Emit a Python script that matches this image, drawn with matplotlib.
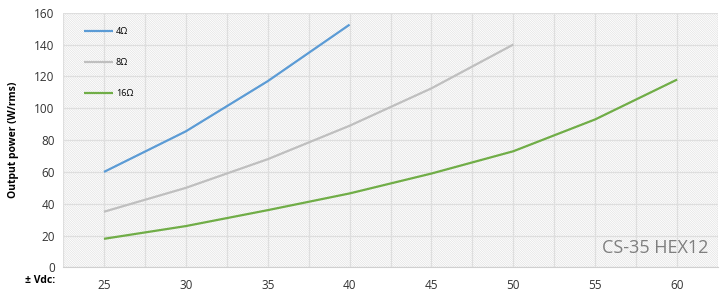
import matplotlib
matplotlib.use("Agg")
import matplotlib.pyplot as plt
from matplotlib.patches import Rectangle
from matplotlib.ticker import MultipleLocator

plt.rcParams['font.family'] = ['Open Sans', 'DejaVu Sans']
plt.rcParams['hatch.linewidth'] = 0.4
plt.rcParams['hatch.color'] = '#dcdcdc'

volts_4 = [25, 30, 35, 40]
power_4 = [60, 85.5, 117, 152.5]
volts_8 = [25, 30, 35, 40, 45, 50]
power_8 = [35, 50, 68, 89, 112.5, 140]
volts_16 = [25, 30, 35, 40, 45, 50, 55, 60]
power_16 = [18, 26, 36, 46.5, 59, 73, 93, 118]
labels = ['4Ω', '8Ω', '16Ω']
colors = ['#5B9BD5', '#BFBFBF', '#70AD47']
x_ticks = [25, 30, 35, 40, 45, 50, 55, 60]
y_ticks = [0, 20, 40, 60, 80, 100, 120, 140, 160]

fig = plt.figure(figsize=(7.22, 2.91), dpi=100)
ax = fig.add_axes([0.0873, 0.0808, 0.9072, 0.8756])

bg = Rectangle((0, 0), 1, 1, transform=ax.transAxes, facecolor='white',
               edgecolor='#dcdcdc', hatch='\\' * 15, linewidth=0, zorder=0)
ax.add_patch(bg)

for xs, ys, lab, c in zip([volts_4, volts_8, volts_16], [power_4, power_8, power_16], labels, colors):
    ax.plot(xs, ys, color=c, lw=1.6, label=lab, zorder=3, solid_capstyle='butt')

ax.set_xlim(22.5, 62.5)
ax.set_ylim(0, 160)
ax.set_xticks(x_ticks)
ax.set_yticks(y_ticks)
ax.xaxis.set_minor_locator(MultipleLocator(2.5))
ax.grid(True, which='both', axis='x', color='#dedede', lw=0.9, zorder=1)
ax.grid(True, which='major', axis='y', color='#dedede', lw=0.9, zorder=1)
ax.set_axisbelow(False)
for s in ax.spines.values():
    s.set_visible(False)
ax.spines['bottom'].set_visible(True)
ax.spines['bottom'].set_color('#d0d0d0')
ax.tick_params(axis='both', which='both', length=0, labelsize=8.5, colors='#333333')
ax.tick_params(axis='x', pad=8)
ax.tick_params(axis='y', pad=6)

ax.set_ylabel('Output power (W/rms)', fontsize=7.5, fontweight='bold', labelpad=11)
fig.text(0.055, 0.035, '± Vdc:', fontsize=7.5, fontweight='bold', ha='center', va='center')

ax.text(0.985, 0.04, 'CS-35 HEX12', transform=ax.transAxes, ha='right', va='bottom',
        fontsize=13, color='#7f7f7f', zorder=4)

leg = ax.legend(loc='upper left', bbox_to_anchor=(0.02, 0.975), frameon=False, fontsize=6.5,
                handlelength=3.2, handletextpad=0.3, labelspacing=2.45)

fig.savefig('out.png', dpi=100)
